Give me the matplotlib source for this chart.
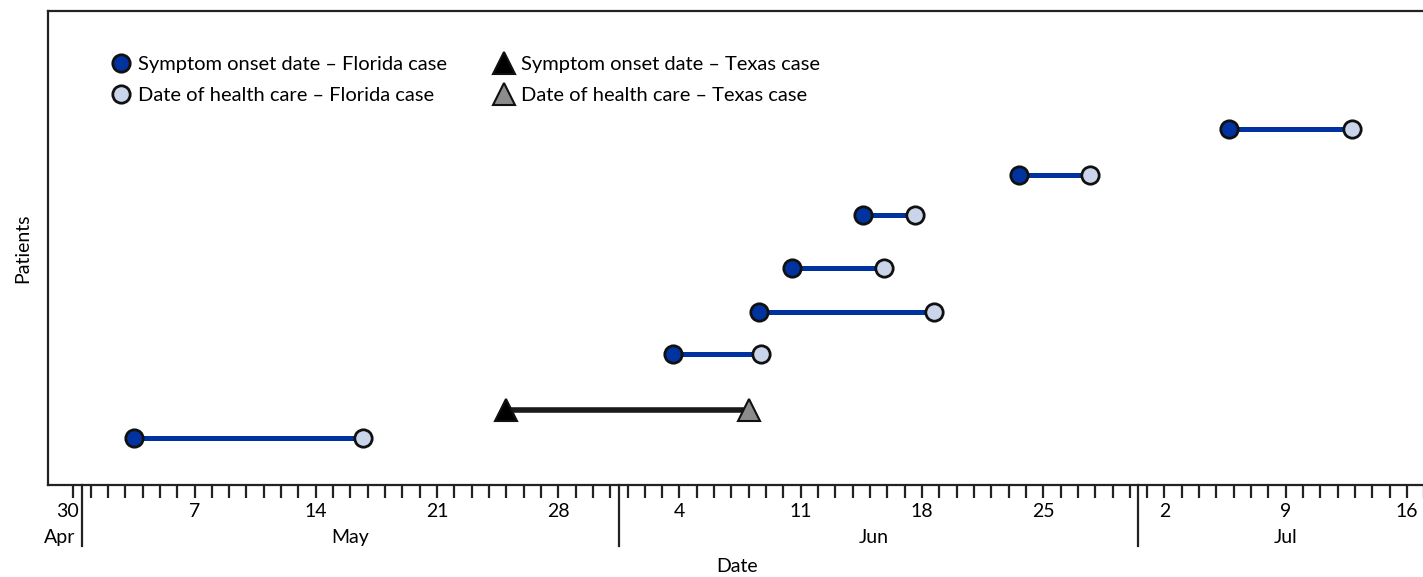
import matplotlib
matplotlib.use('Agg')
import matplotlib.pyplot as plt
from matplotlib.lines import Line2D
import matplotlib.transforms as mtransforms

plt.rcParams['font.family'] = ['Lato', 'DejaVu Sans']

# x values: days since 30 April
florida_onset = [3.5, 34.6, 39.6, 41.5, 45.6, 54.6, 66.7]
florida_care = [16.7, 39.7, 49.7, 46.8, 48.6, 58.7, 73.8]
florida_y = [0.99, 2.76, 3.65, 4.58, 5.70, 6.54, 7.51]
texas_onset = [25.0]
texas_care = [39.0]
texas_y = [1.58]

tick_days = [0, 7, 14, 21, 28, 35, 42, 49, 56, 63, 70, 77]
tick_labels = ['30', '7', '14', '21', '28', '4', '11', '18', '25', '2', '9', '16']
month_names = ['Apr', 'May', 'Jun', 'Jul']
month_centers = [-0.8, 16.0, 46.2, 70.0]
month_boundaries = [0.5, 31.5, 61.5]

legend_labels = ['Symptom onset date \u2013 Florida case',
                 'Date of health care \u2013 Florida case',
                 'Symptom onset date \u2013 Texas case',
                 'Date of health care \u2013 Texas case']

DARK_BLUE = '#0033A0'
LIGHT_BLUE = '#CAD4EA'
GRAY = '#8C8C8C'
EDGE = '#111111'

W, H = 1423, 577
fig = plt.figure(figsize=(W / 100, H / 100), dpi=100)
left, right, top, bottom = 48, 1426, 11, 485
ax = fig.add_axes([left / W, 1 - bottom / H, (right - left) / W, (bottom - top) / H])

ax.set_xlim(-1.46, 78.1)
ax.set_ylim(0, 10)

for on, care, y in zip(florida_onset, florida_care, florida_y):
    ax.plot([on, care], [y, y], color=DARK_BLUE, lw=3.6, solid_capstyle='butt', zorder=2)
ax.plot(florida_onset, florida_y, 'o', ms=12.5, mfc=DARK_BLUE, mec=EDGE, mew=2, zorder=3)
ax.plot(florida_care, florida_y, 'o', ms=12.5, mfc=LIGHT_BLUE, mec=EDGE, mew=2, zorder=3)

for on, care, y in zip(texas_onset, texas_care, texas_y):
    ax.plot([on, care], [y, y], color='#1a1a1a', lw=4, solid_capstyle='butt', zorder=2)
ax.plot(texas_onset, texas_y, '^', ms=16, mfc='#000000', mec=EDGE, mew=1.5, zorder=3)
ax.plot(texas_care, texas_y, '^', ms=16, mfc=GRAY, mec=EDGE, mew=1.5, zorder=3)

# axes styling
for s in ax.spines.values():
    s.set_linewidth(1.6)
    s.set_color('#222222')
ax.set_yticks([])
ax.set_xticks(range(0, 79), minor=True)
ax.set_xticks(tick_days)
ax.set_xticklabels(tick_labels)
ax.tick_params(axis='x', which='both', direction='out', length=9, width=1.6,
               color='#222222', labelsize=14, pad=4)
# shift "30" left so it does not touch the month separator
lbl0 = ax.get_xticklabels()[0]
lbl0.set_transform(lbl0.get_transform() + mtransforms.ScaledTranslation(-6 / 100, 0, fig.dpi_scale_trans))

trans = mtransforms.blended_transform_factory(ax.transData, ax.transAxes)
for b in month_boundaries:
    ax.plot([b, b], [0, -0.129], transform=trans, color='#222222', lw=1.6, clip_on=False)
for name, c in zip(month_names, month_centers):
    ax.text(c, -0.11, name, transform=trans, ha='center', va='center', fontsize=14)

ax.set_xlabel('Date', fontsize=14, labelpad=27)
ax.set_ylabel('Patients', fontsize=14, labelpad=12)

handles = [
    Line2D([], [], ls='none', marker='o', ms=12.5, mfc=DARK_BLUE, mec=EDGE, mew=2),
    Line2D([], [], ls='none', marker='o', ms=12.5, mfc=LIGHT_BLUE, mec=EDGE, mew=2),
    Line2D([], [], ls='none', marker='^', ms=16, mfc='#000000', mec=EDGE, mew=1.5),
    Line2D([], [], ls='none', marker='^', ms=16, mfc=GRAY, mec=EDGE, mew=1.5),
]
ax.legend(handles, legend_labels, ncol=2, loc='upper left',
          bbox_to_anchor=((111 - left) / (right - left), (bottom - 56) / (bottom - top)),
          frameon=False, fontsize=14.5, handlelength=1.0, handletextpad=0.35,
          columnspacing=2.3, labelspacing=0.7, borderpad=0, borderaxespad=0)

fig.savefig('out.png', dpi=100)
